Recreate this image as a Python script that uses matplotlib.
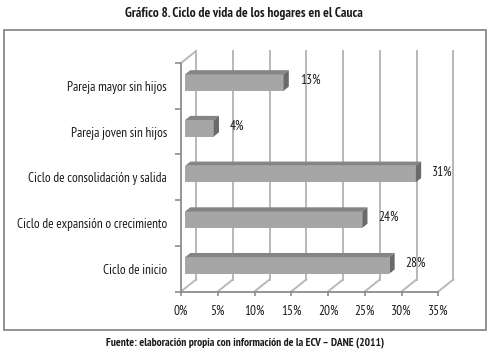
import matplotlib.pyplot as plt
from matplotlib import font_manager
from matplotlib.patches import Polygon, Rectangle

# data (bottom to top, as drawn)
categories = ["Ciclo de inicio", "Ciclo de expansión o crecimiento",
              "Ciclo de consolidación y salida", "Pareja joven sin hijos",
              "Pareja mayor sin hijos"]
values = [27.8, 24.1, 31.4, 3.9, 13.4]
labels = ["28%", "24%", "31%", "4%", "13%"]
xticks = [0, 5, 10, 15, 20, 25, 30, 35]

title = "Gráfico 8. Ciclo de vida de los hogares en el Cauca"
source = "Fuente: elaboración propia con información de la ECV – DANE (2011)"

# pick a condensed face close to the original (Myriad Condensed look)
installed = {f.name for f in font_manager.fontManager.ttflist}
wanted = ["PT Sans Narrow", "Fira Sans Condensed", "Liberation Sans Narrow",
          "Open Sans Condensed", "Roboto Condensed", "Encode Sans Condensed",
          "Asap Condensed", "Archivo Narrow", "Ubuntu Condensed"]
font = next((n for n in wanted if n in installed), "DejaVu Sans")
plt.rcParams['font.family'] = [font, 'DejaVu Sans']

W, H = 491, 356
fig = plt.figure(figsize=(W / 100, H / 100), dpi=100)

# axes = front plane of the 3d box
x0, x1, y0, y1 = 181, 438.3, 63, 291.5
ax = fig.add_axes([x0 / W, 1 - y1 / H, (x1 - x0) / W, (y1 - y0) / H])
ax.set_xlim(0, 35)
ax.set_ylim(-0.5, len(categories) - 0.5)

# pixel -> data scales
sx = (x1 - x0) / 35.0
sy = (y1 - y0) / len(categories)
depth_dx, depth_dy = 15 / sx, 12 / sy   # wall depth in data units

grid_c = "#b8b8b8"
axis_c = "#8c8c8c"
top = len(categories) - 0.5

# back wall gridlines + floor diagonals
for t in xticks:
    ax.plot([t + depth_dx, t + depth_dx], [-0.5 + depth_dy, top + depth_dy],
            color=grid_c, lw=1.4, clip_on=False, zorder=1)
    ax.plot([t, t + depth_dx], [-0.5, -0.5 + depth_dy],
            color=grid_c, lw=1.4, clip_on=False, zorder=1)
# left wall top edge
ax.plot([0, depth_dx], [top, top + depth_dy], color=grid_c, lw=1.4,
        clip_on=False, zorder=1)

# 3d-looking bars
f0, f1 = 0.27, 0.62   # bar depth position within the box
bh = 0.36
front_c, top_c, side_c = "#a6a6a6", "#858585", "#6a6a6a"
for i, v in enumerate(values):
    bx = f0 * depth_dx
    by = i + f0 * depth_dy - bh / 2
    ddx = (f1 - f0) * depth_dx
    ddy = (f1 - f0) * depth_dy
    ax.barh(i + f0 * depth_dy, v, left=bx, height=bh, color=front_c,
            edgecolor="none", zorder=3)
    ax.add_patch(Polygon([(bx, by + bh), (bx + v, by + bh),
                          (bx + v + ddx, by + bh + ddy), (bx + ddx, by + bh + ddy)],
                         closed=True, facecolor=top_c, edgecolor="none", zorder=3,
                         clip_on=False))
    ax.add_patch(Polygon([(bx + v, by), (bx + v, by + bh),
                          (bx + v + ddx, by + bh + ddy), (bx + v + ddx, by + ddy)],
                         closed=True, facecolor=side_c, edgecolor="none", zorder=3,
                         clip_on=False))
    ax.annotate(labels[i], (bx + v + ddx, i + (f0 + f1) / 2 * depth_dy),
                xytext=(8, 0), textcoords="offset points", ha="left",
                va="center", fontsize=9.5, color="#1a1a1a", zorder=4)

# spines / ticks
for s in ("top", "right"):
    ax.spines[s].set_visible(False)
for s in ("left", "bottom"):
    ax.spines[s].set_color(axis_c)
    ax.spines[s].set_linewidth(1.3)
ax.set_facecolor("none")

ax.set_xticks(xticks)
ax.set_xticklabels([f"{t}%" for t in xticks])
ax.tick_params(axis="x", direction="out", length=3, width=1.2, color=axis_c,
               pad=6.5, labelsize=9.5, labelcolor="#1a1a1a")

ax.set_yticks([k - 0.5 for k in range(len(categories) + 1)])
ax.set_yticklabels([])
ax.set_yticks(range(len(categories)), minor=True)
ax.set_yticklabels(categories, minor=True)
ax.tick_params(axis="y", which="major", direction="out", length=4, width=1.2,
               color=axis_c)
ax.tick_params(axis="y", which="minor", length=0, pad=10, labelsize=9.5,
               labelcolor="#1a1a1a")

# outer frame
fig.patches.append(Rectangle((4 / W, 1 - 330 / H), 482 / W, 300 / H,
                             transform=fig.transFigure, fill=False,
                             edgecolor="#7f7f7f", lw=1.2))

fig.text(244 / W, 1 - 14 / H, title, ha="center", va="center",
         fontsize=9.6, fontweight="bold", color="#1a1a1a")
fig.text(245 / W, 1 - 343 / H, source, ha="center", va="center",
         fontsize=8.2, fontweight="bold", color="#1a1a1a")

fig.savefig("out.png", dpi=100)
